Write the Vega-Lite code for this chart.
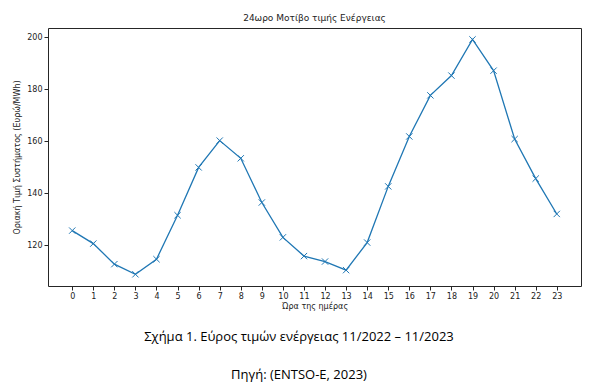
{
  "$schema": "https://vega.github.io/schema/vega-lite/v6.json",
  "autosize": {"type": "pad"},
  "padding": {"left": 13, "top": 13, "right": 0, "bottom": 0},
  "background": "white",
  "bounds": "flush",
  "spacing": 51,
  "config": {
    "view": {"stroke": null},
    "font": "DejaVu Sans"
  },
  "vconcat": [
    {
      "width": 533,
      "height": 258,
      "view": {"stroke": "#262626", "strokeWidth": 1},
      "title": {
        "text": "24ωρο Μοτίβο τιμής Ενέργειας",
        "font": "DejaVu Sans",
        "fontSize": 9,
        "fontWeight": "normal",
        "color": "#222",
        "offset": 5
      },
      "data": {
        "values": [
          {"hour": 0, "price": 125.6},
          {"hour": 1, "price": 120.6},
          {"hour": 2, "price": 112.7},
          {"hour": 3, "price": 108.8},
          {"hour": 4, "price": 114.6},
          {"hour": 5, "price": 131.5},
          {"hour": 6, "price": 149.9},
          {"hour": 7, "price": 160.2},
          {"hour": 8, "price": 153.4},
          {"hour": 9, "price": 136.4},
          {"hour": 10, "price": 123.0},
          {"hour": 11, "price": 115.8},
          {"hour": 12, "price": 113.7},
          {"hour": 13, "price": 110.4},
          {"hour": 14, "price": 121.0},
          {"hour": 15, "price": 142.6},
          {"hour": 16, "price": 161.8},
          {"hour": 17, "price": 177.6},
          {"hour": 18, "price": 185.2},
          {"hour": 19, "price": 199.1},
          {"hour": 20, "price": 187.1},
          {"hour": 21, "price": 160.8},
          {"hour": 22, "price": 145.6},
          {"hour": 23, "price": 132.0}
        ]
      },
      "encoding": {
        "x": {
          "field": "hour",
          "type": "quantitative",
          "scale": {"domain": [-1.15, 24.15], "nice": false, "zero": false},
          "axis": {
            "title": "Ώρα της ημέρας",
            "values": [0,1,2,3,4,5,6,7,8,9,10,11,12,13,14,15,16,17,18,19,20,21,22,23],
            "format": "d",
            "grid": false,
            "domain": false,
            "tickSize": 4,
            "tickColor": "#262626",
            "labelFontSize": 8,
            "labelColor": "#222",
            "labelPadding": 2,
            "titleFontSize": 8,
            "titleFontWeight": "normal",
            "titleColor": "#222",
            "titlePadding": 2,
            "labelFlush": false
          }
        },
        "y": {
          "field": "price",
          "type": "quantitative",
          "scale": {"domain": [104.3, 203.5], "nice": false, "zero": false},
          "axis": {
            "title": "Οριακή Τιμή Συστήματος (Ευρώ/MWh)",
            "values": [120, 140, 160, 180, 200],
            "grid": false,
            "domain": false,
            "tickSize": 4,
            "tickColor": "#262626",
            "labelFontSize": 8,
            "labelColor": "#222",
            "labelPadding": 2,
            "titleFontSize": 8,
            "titleFontWeight": "normal",
            "titleColor": "#222",
            "titlePadding": 5,
            "labelFlush": false
          }
        }
      },
      "layer": [
        {"mark": {"type": "line", "color": "#1f77b4", "strokeWidth": 1.3}},
        {
          "mark": {
            "type": "point",
            "shape": "M-1,-1L1,1M-1,1L1,-1",
            "filled": false,
            "stroke": "#1f77b4",
            "strokeWidth": 1,
            "size": 40,
            "opacity": 1
          }
        }
      ]
    },
    {
      "width": 502,
      "height": 38,
      "data": {
        "values": [
          {"line": 1, "text": "Σχήμα 1. Εύρος τιμών ενέργειας 11/2022 – 11/2023"},
          {"line": 2, "text": "Πηγή: (ENTSO-E, 2023)"}
        ]
      },
      "mark": {
        "type": "text",
        "font": "Open Sans",
        "fontSize": 13,
        "color": "#000",
        "baseline": "middle",
        "align": "center"
      },
      "encoding": {
        "y": {
          "field": "line",
          "type": "ordinal",
          "scale": {"type": "point", "padding": 0},
          "axis": null
        },
        "text": {"field": "text"}
      }
    }
  ]
}
